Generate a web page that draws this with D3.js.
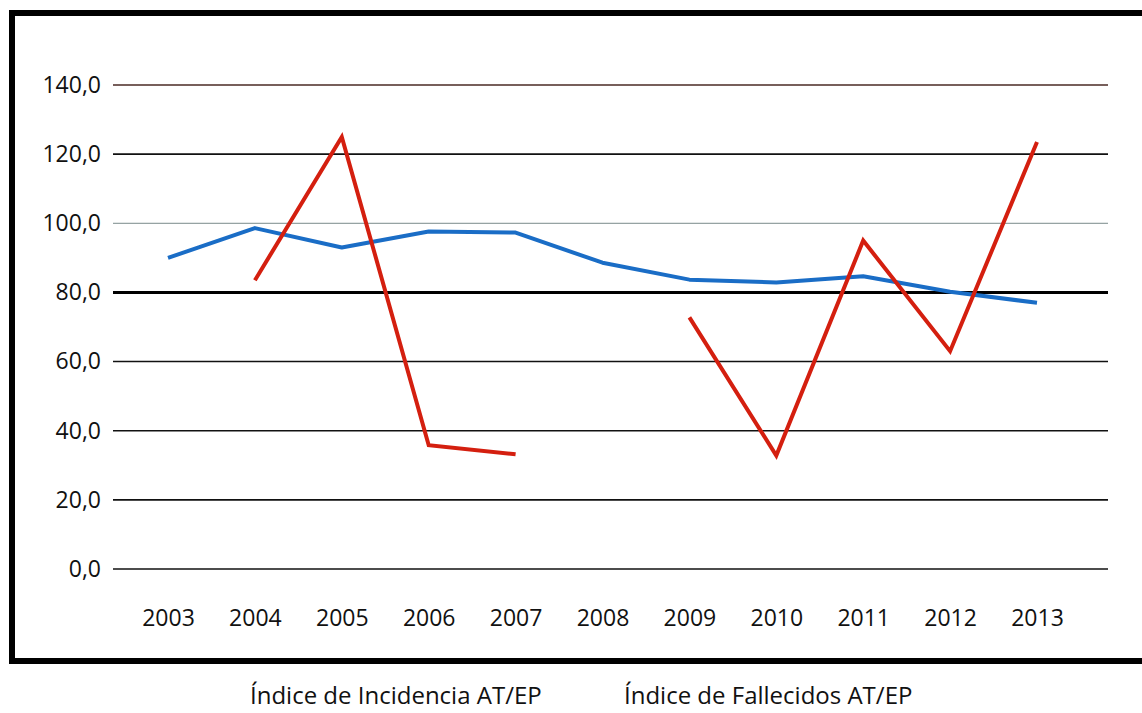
<!DOCTYPE html>
<html>
<head>
<meta charset="utf-8">
<script src="https://cdn.jsdelivr.net/npm/d3@7"></script>
<style>
  body { margin: 0; background: #fff; }
  text { font-family: "Open Sans", "Noto Sans", sans-serif; fill: #111; }
</style>
</head>
<body>
<div id="chart"></div>
<script>
var years = [2003, 2004, 2005, 2006, 2007, 2008, 2009, 2010, 2011, 2012, 2013];
var fallecidos = [90.0, 98.6, 93.0, 97.6, 97.3, 88.6, 83.7, 82.9, 84.7, 80.2, 77.0];
var incidencia = [null, 83.5, 125.0, 35.8, 33.2, null, 72.8, 32.8, 95.0, 63.0, 123.5];
var yTicks = [0, 20, 40, 60, 80, 100, 120, 140];
var legendLabels = ["Índice de Incidencia AT/EP", "Índice de Fallecidos AT/EP"];

var width = 1142, height = 713;

var svg = d3.select("#chart")
  .append("svg")
    .attr("width", width)
    .attr("height", height);

// outer frame
svg.append("rect")
  .attr("x", 12).attr("y", 13)
  .attr("width", 1140).attr("height", 648)
  .attr("fill", "none")
  .attr("stroke", "#000")
  .attr("stroke-width", 6);

var x = d3.scalePoint()
  .domain(years)
  .range([168, 1037]);

var y = d3.scaleLinear()
  .domain([0, 140])
  .range([569, 85]);

// gridlines
var gridColor = {140: "#4a2a24", 100: "#7a8a8a", 80: "#000"};
svg.append("g")
  .selectAll("line")
  .data(yTicks)
  .enter()
  .append("line")
    .attr("x1", 113)
    .attr("x2", 1108)
    .attr("y1", function(d) { return y(d); })
    .attr("y2", function(d) { return y(d); })
    .attr("stroke", function(d) { return gridColor[d] || "#111"; })
    .attr("stroke-width", function(d) { return d == 80 ? 3 : (d == 100 ? 1 : 1.6); });

// y axis labels
var yAxis = svg.append("g")
  .attr("transform", "translate(101,0)")
  .call(d3.axisLeft(y).tickValues(yTicks).tickSize(0).tickPadding(0)
    .tickFormat(function(d) { return d3.format(".1f")(d).replace(".", ","); }));
yAxis.select(".domain").remove();
yAxis.selectAll("text")
  .style("font-size", "23px")
  .attr("fill", "#111");

// x axis labels
var xAxis = svg.append("g")
  .attr("transform", "translate(0,610)")
  .call(d3.axisBottom(x).tickSize(0).tickPadding(0).tickFormat(d3.format("d")));
xAxis.select(".domain").remove();
xAxis.selectAll("text")
  .style("font-size", "23px")
  .attr("fill", "#111");

var line = d3.line()
  .defined(function(d) { return d.v != null; })
  .x(function(d) { return x(d.year); })
  .y(function(d) { return y(d.v); });

svg.append("path")
  .datum(years.map(function(yr, i) { return {year: yr, v: fallecidos[i]}; }))
  .attr("d", line)
  .attr("fill", "none")
  .attr("stroke", "#1a6dc6")
  .attr("stroke-width", 4)
  .attr("stroke-linejoin", "round");

svg.append("path")
  .datum(years.map(function(yr, i) { return {year: yr, v: incidencia[i]}; }))
  .attr("d", line)
  .attr("fill", "none")
  .attr("stroke", "#d41f0f")
  .attr("stroke-width", 4)
  .attr("stroke-linejoin", "miter");

// legend (text only)
var legendX = [250, 624];
svg.append("g")
  .selectAll("text")
  .data(legendLabels)
  .enter()
  .append("text")
    .attr("x", function(d, i) { return legendX[i]; })
    .attr("y", 704)
    .style("font-size", "24px")
    .text(function(d) { return d; });
</script>
</body>
</html>
